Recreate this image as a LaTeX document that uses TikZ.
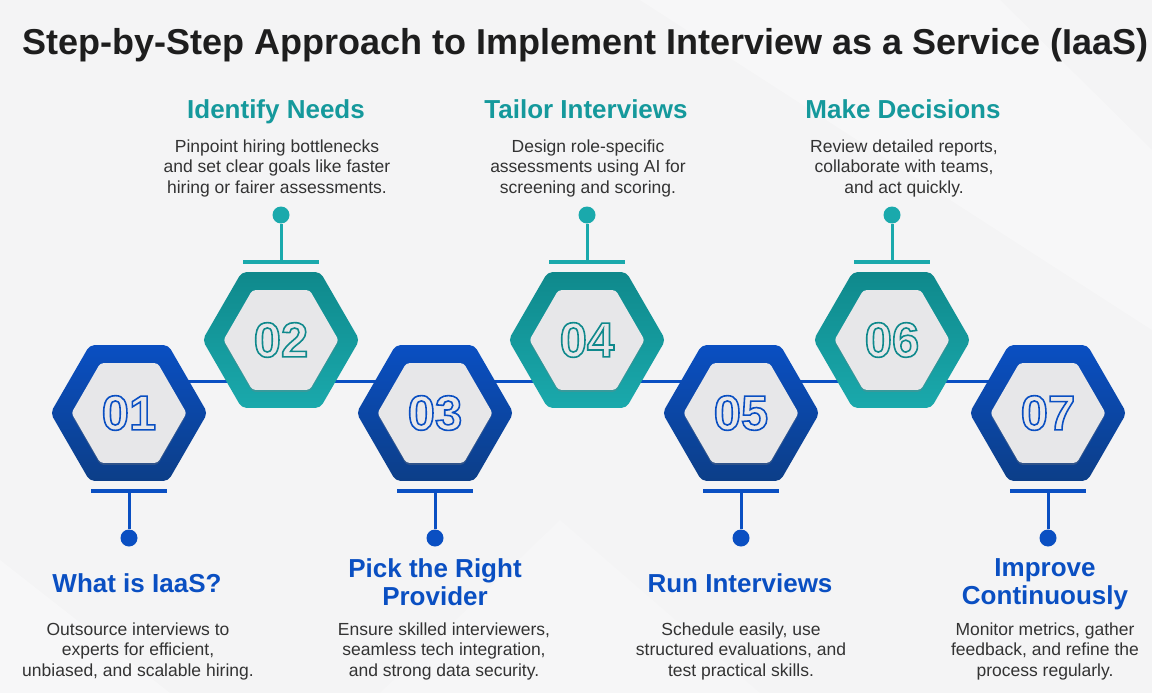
\documentclass[tikz,border=0pt]{standalone}
\usepackage{fontspec}
\setmainfont{Liberation Sans}
\usetikzlibrary{shapes.geometric, shadows, backgrounds}
\definecolor{bluemain}{HTML}{0A4FC2}
\definecolor{bluedark}{HTML}{0C3E88}
\definecolor{tealmain}{HTML}{1AA9AC}
\definecolor{tealdark}{HTML}{0F898C}
\definecolor{tealtext}{HTML}{15999C}
\definecolor{hexgray}{HTML}{E7E7E9}
\definecolor{paper}{HTML}{F4F4F5}
\definecolor{inktext}{HTML}{333333}
\definecolor{inktitle}{HTML}{1E1E1E}
% Ziffern nur als Umriss (Textmodus 1 = nur Kontur)
\newcommand{\hexnum}[2]{\textcolor{#1}{\special{pdf:literal direct 1 Tr 1.6 w}#2\special{pdf:literal direct 0 Tr}}}

\begin{document}
\begin{tikzpicture}[x=1pt, y=-1pt,
  outerhex/.style={regular polygon, regular polygon sides=6, minimum size=157pt, inner sep=0pt, rounded corners=5pt},
  innerhex/.style={regular polygon, regular polygon sides=6, minimum size=115pt, inner sep=0pt, rounded corners=3pt,
    fill=hexgray, drop shadow={opacity=0.3, shadow xshift=0pt, shadow yshift=-2pt},
    font=\fontsize{49}{49}\selectfont\bfseries},
  bar/.style={line width=4pt},
  stem/.style={line width=3pt},
  dot/.style={circle, inner sep=0pt, minimum size=17pt},
  steptitle/.style={align=center, font=\fontsize{26}{28}\selectfont\bfseries},
  stepdesc/.style={align=center, text=inktext, font=\fontsize{17.5}{20.5}\selectfont}]
  \useasboundingbox (0,0) rectangle (1152,693);

  % Hintergrund
  \begin{scope}[on background layer]
    \fill[paper] (0,0) rectangle (1152,693);
    \fill[white, opacity=0.3] (640,0) -- (1000,0) -- (1152,150) -- (1152,330) -- cycle;
    \fill[white, opacity=0.3] (0,560) -- (170,693) -- (0,693) -- cycle;
    \fill[white, opacity=0.2] (380,693) -- (560,520) -- (760,693) -- cycle;
  \end{scope}

  % Titel
  \node[anchor=base west, inner sep=0pt, text=inktitle, font=\fontsize{36}{40}\selectfont\bfseries] (title) at (22,55)
    {Step-by-Step Approach to Implement Interview as a Service (IaaS)};

  % Sechsecke
  \node[outerhex, top color=bluemain, bottom color=bluedark] (h1) at (129,413) {};
  \node[outerhex, top color=tealdark, bottom color=tealmain] (h2) at (281,340) {};
  \node[outerhex, top color=bluemain, bottom color=bluedark] (h3) at (435,413) {};
  \node[outerhex, top color=tealdark, bottom color=tealmain] (h4) at (587,340) {};
  \node[outerhex, top color=bluemain, bottom color=bluedark] (h5) at (741,413) {};
  \node[outerhex, top color=tealdark, bottom color=tealmain] (h6) at (892,340) {};
  \node[outerhex, top color=bluemain, bottom color=bluedark] (h7) at (1048,413) {};

  \node[innerhex] (n1) at (h1) {\hexnum{bluemain}{01}};
  \node[innerhex] (n2) at (h2) {\hexnum{tealdark}{02}};
  \node[innerhex] (n3) at (h3) {\hexnum{bluemain}{03}};
  \node[innerhex] (n4) at (h4) {\hexnum{tealdark}{04}};
  \node[innerhex] (n5) at (h5) {\hexnum{bluemain}{05}};
  \node[innerhex] (n6) at (h6) {\hexnum{tealdark}{06}};
  \node[innerhex] (n7) at (h7) {\hexnum{bluemain}{07}};

  % Verbindungslinie hinter den Sechsecken
  \coordinate (axis) at (0,381);
  \begin{scope}[on background layer]
    \draw[bluemain, line width=3pt] (h1 |- axis) -- (h7 |- axis);
  \end{scope}

  % Stiele und Punkte
  \coordinate (b1) at ([yshift=-10pt]h1.south);
  \coordinate (b2) at ([yshift=10pt]h2.north);
  \coordinate (b3) at ([yshift=-10pt]h3.south);
  \coordinate (b4) at ([yshift=10pt]h4.north);
  \coordinate (b5) at ([yshift=-10pt]h5.south);
  \coordinate (b6) at ([yshift=10pt]h6.north);
  \coordinate (b7) at ([yshift=-10pt]h7.south);
  \node[dot, fill=bluemain] (p1) at (129,538) {};
  \node[dot, fill=tealmain] (p2) at (281,215) {};
  \node[dot, fill=bluemain] (p3) at (435,538) {};
  \node[dot, fill=tealmain] (p4) at (587,215) {};
  \node[dot, fill=bluemain] (p5) at (741,538) {};
  \node[dot, fill=tealmain] (p6) at (892,215) {};
  \node[dot, fill=bluemain] (p7) at (1048,538) {};
  \draw[bar, bluemain] ([xshift=-38pt]b1) -- ([xshift=38pt]b1);
  \draw[bar, tealmain] ([xshift=-38pt]b2) -- ([xshift=38pt]b2);
  \draw[bar, bluemain] ([xshift=-38pt]b3) -- ([xshift=38pt]b3);
  \draw[bar, tealmain] ([xshift=-38pt]b4) -- ([xshift=38pt]b4);
  \draw[bar, bluemain] ([xshift=-38pt]b5) -- ([xshift=38pt]b5);
  \draw[bar, tealmain] ([xshift=-38pt]b6) -- ([xshift=38pt]b6);
  \draw[bar, bluemain] ([xshift=-38pt]b7) -- ([xshift=38pt]b7);
  \draw[stem, bluemain] (b1) -- (p1);
  \draw[stem, tealmain] (b2) -- (p2);
  \draw[stem, bluemain] (b3) -- (p3);
  \draw[stem, tealmain] (b4) -- (p4);
  \draw[stem, bluemain] (b5) -- (p5);
  \draw[stem, tealmain] (b6) -- (p6);
  \draw[stem, bluemain] (b7) -- (p7);

  % Texte oben (gerade Schritte)
  \node[steptitle, text=tealtext, anchor=base] (t2) at (276,118) {Identify Needs};
  \node[stepdesc] (d2) at (277,168) {Pinpoint hiring bottlenecks\\and set clear goals like faster\\hiring or fairer assessments.};
  \node[steptitle, text=tealtext, anchor=base] (t4) at (586,118) {Tailor Interviews};
  \node[stepdesc] (d4) at (588,168) {Design role-specific\\assessments using AI for\\screening and scoring.};
  \node[steptitle, text=tealtext, anchor=base] (t6) at (903,118) {Make Decisions};
  \node[stepdesc] (d6) at (904,168) {Review detailed reports,\\collaborate with teams,\\and act quickly.};

  % Texte unten (ungerade Schritte)
  \node[steptitle, text=bluemain] (t1) at (137,583) {What is IaaS?};
  \node[stepdesc] (d1) at (138,651) {Outsource interviews to\\experts for efficient,\\unbiased, and scalable hiring.};
  \node[steptitle, text=bluemain] (t3) at (435,582) {Pick the Right\\Provider};
  \node[stepdesc] (d3) at (444,651) {Ensure skilled interviewers,\\seamless tech integration,\\and strong data security.};
  \node[steptitle, text=bluemain] (t5) at (740,583) {Run Interviews};
  \node[stepdesc] (d5) at (741,651) {Schedule easily, use\\structured evaluations, and\\test practical skills.};
  \node[steptitle, text=bluemain] (t7) at (1045,584) {Improve\\Continuously};
  \node[stepdesc] (d7) at (1045,651) {Monitor metrics, gather\\feedback, and refine the\\process regularly.};
\end{tikzpicture}
\end{document}
